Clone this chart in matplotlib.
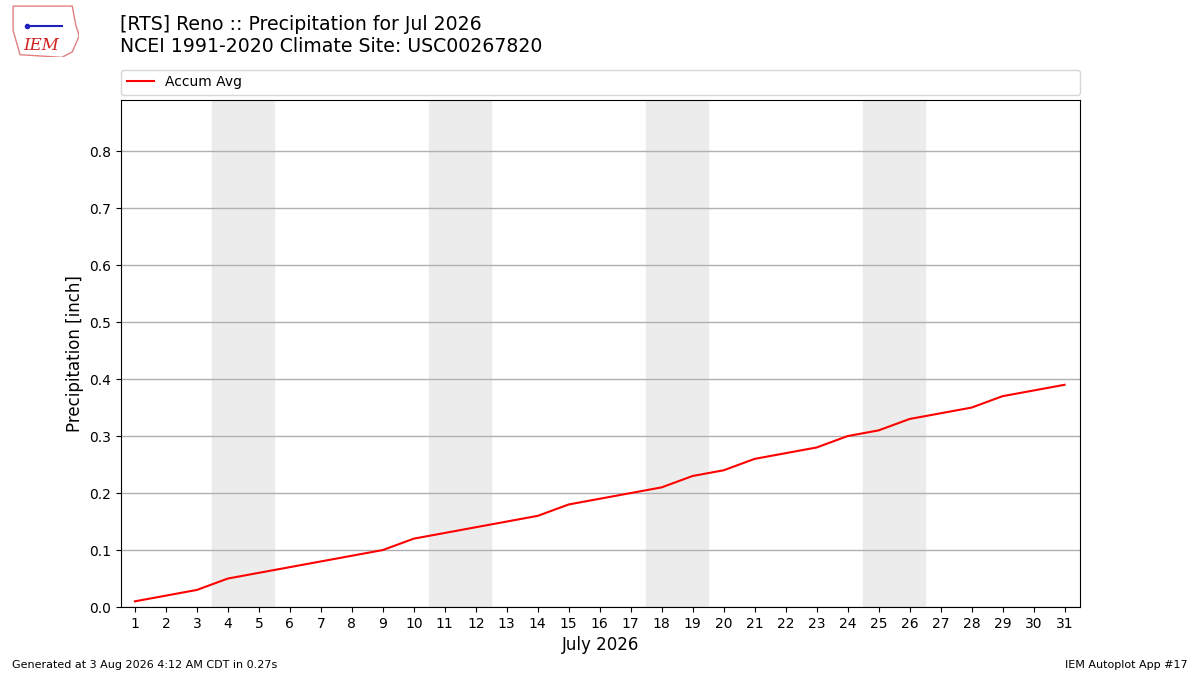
import matplotlib.pyplot as plt
from matplotlib.patches import Polygon

# Daily accumulated average precipitation (inch), July
days = list(range(1, 32))
accum_avg = [0.01, 0.02, 0.03, 0.05, 0.06, 0.07, 0.08, 0.09, 0.10, 0.12,
             0.13, 0.14, 0.15, 0.16, 0.18, 0.19, 0.20, 0.21, 0.23, 0.24,
             0.26, 0.27, 0.28, 0.30, 0.31, 0.33, 0.34, 0.35, 0.37, 0.38,
             0.39]
weekend_starts = [4, 11, 18, 25]

title = "[RTS] Reno :: Precipitation for Jul 2026\nNCEI 1991-2020 Climate Site: USC00267820"

fig = plt.figure(figsize=(12, 6.75), dpi=100)
ax = fig.add_axes([0.1008, 0.1007, 0.7992, 0.7513])

# shade the weekends
for d in weekend_starts:
    ax.axvspan(d - 0.5, d + 1.5, color="#ececec", zorder=0)

ax.plot(days, accum_avg, color="red", lw=1.5, label="Accum Avg", zorder=3)

ax.set_xlim(0.55, 31.5)
ax.set_ylim(0, 0.89)
ax.set_xticks(days)
ax.set_yticks([0.0, 0.1, 0.2, 0.3, 0.4, 0.5, 0.6, 0.7, 0.8])
ax.yaxis.grid(True, color="#b0b0b0", lw=1)
ax.set_axisbelow(True)
ax.set_xlabel("July 2026", fontsize=12)
ax.set_ylabel("Precipitation [inch]", fontsize=12)

ax.legend(loc="lower left", bbox_to_anchor=(0, 1.01, 1, 0.05), mode="expand",
          ncol=1, fontsize=10, borderaxespad=0, handlelength=2.0)

fig.text(0.1, 0.978, title, fontsize=13.6, va="top", ha="left")

# simple logo stand-in
logo = fig.add_axes([0.008, 0.915, 0.058, 0.08])
logo.set_xlim(0, 1)
logo.set_ylim(0, 1)
logo.axis("off")
logo.add_patch(Polygon([(0.05, 0.95), (0.9, 0.95), (0.95, 0.6), (1.0, 0.4),
                        (0.9, 0.1), (0.75, 0.0), (0.15, 0.05), (0.05, 0.5)],
                       closed=True, fill=False, ec="#e08080", lw=1))
logo.plot([0.25, 0.75], [0.58, 0.58], color="#2020c0", lw=1.5)
logo.plot([0.25], [0.58], "o", color="#2020c0", ms=3)
logo.text(0.45, 0.22, "IEM", color="#d02020", fontsize=12, family="serif",
          style="italic", ha="center", va="center")

fig.text(0.01, 0.01, "Generated at 3 Aug 2026 4:12 AM CDT in 0.27s", fontsize=8)
fig.text(0.99, 0.01, "IEM Autoplot App #17", fontsize=8, ha="right")

fig.savefig("out.png", dpi=100)
